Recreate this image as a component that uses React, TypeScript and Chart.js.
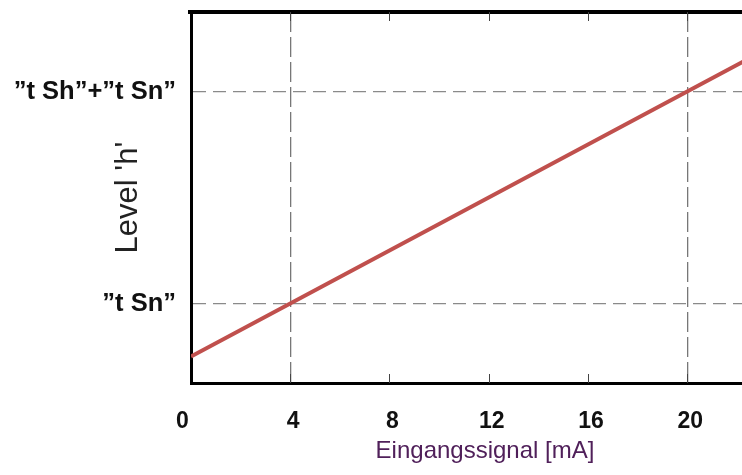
import React, { useEffect, useRef } from 'react';
import { Chart, registerables } from 'chart.js';

Chart.register(...registerables);

// ---- data ----
const signalValues = [0, 4, 20, 23.7];
const levelValues = [0.5, 1.5, 5.5, 6.425];
const xTickValues = [0, 4, 8, 12, 16, 20];
const xTickLabels = ['0\u2003', '4', '8', '12', '16', '20'];
const xGridValues = [4, 20];
const yTickValues = [1.5, 5.5];
const yTickLabels = ['”t Sn”', '”t Sh”+”t Sn”'];
const xTitle = 'Eingangssignal [mA]';
const yTitle = "Level 'h'";

const FONT = '"Liberation Sans", Arial, Helvetica, sans-serif';

const framePlugin = {
  id: 'frame',
  afterDraw(chart: any) {
    const { ctx, chartArea } = chart;
    const xs = chart.scales.x;
    ctx.save();
    ctx.setLineDash([]);
    ctx.strokeStyle = '#000';
    ctx.lineWidth = 4;
    ctx.beginPath();
    ctx.moveTo(chartArea.left - 3, chartArea.top);
    ctx.lineTo(chartArea.right, chartArea.top);
    ctx.stroke();
    ctx.lineWidth = 1;
    ctx.strokeStyle = '#444';
    ctx.beginPath();
    xs.ticks.forEach((t: any) => {
      if (t.value === 0) return;
      const px = Math.round(xs.getPixelForValue(t.value)) + 0.5;
      ctx.moveTo(px, chartArea.top);
      ctx.lineTo(px, chartArea.top + 9);
      ctx.moveTo(px, chartArea.bottom);
      ctx.lineTo(px, chartArea.bottom - 9);
    });
    ctx.stroke();
    ctx.restore();
  },
};

export default function App() {
  const ref = useRef<HTMLCanvasElement | null>(null);

  useEffect(() => {
    if (!ref.current) return;
    const chart = new Chart(ref.current, {
      type: 'line',
      data: {
        datasets: [
          {
            data: signalValues.map((x, i) => ({ x, y: levelValues[i] })),
            borderColor: '#C0504D',
            borderWidth: 4,
            pointRadius: 0,
            tension: 0,
          },
        ],
      },
      options: {
        responsive: false,
        animation: false,
        layout: { padding: { top: 12, right: 1, left: 0, bottom: 0 } },
        plugins: { legend: { display: false }, tooltip: { enabled: false } },
        scales: {
          x: {
            type: 'linear',
            min: 0,
            max: 23.7,
            afterBuildTicks: (s: any) => {
              s.ticks = xTickValues.map((v) => ({ value: v }));
            },
            afterFit: (s: any) => {
              s.height = 92;
              s.paddingLeft = 0;
              s.paddingRight = 0;
            },
            grid: {
              drawTicks: false,
              lineWidth: 1.3,
              color: (c: any) =>
                c.tick && xGridValues.includes(c.tick.value) ? '#777777' : 'rgba(0,0,0,0)',
            },
            border: { display: true, color: '#000', width: 3, dash: [20, 5] },
            ticks: {
              padding: 25,
              color: '#111',
              autoSkip: false,
              maxRotation: 0,
              labelOffset: 3,
              font: { family: FONT, size: 23, weight: 'bold' },
              callback: (v: any) => {
                const i = xTickValues.indexOf(Number(v));
                return i >= 0 ? xTickLabels[i] : '';
              },
            },
            title: {
              display: true,
              text: xTitle,
              color: '#50205a',
              font: { family: FONT, size: 24 },
              padding: { top: 0, bottom: 9 },
            },
          },
          y: {
            type: 'linear',
            min: 0,
            max: 7,
            afterBuildTicks: (s: any) => {
              s.ticks = yTickValues.map((v) => ({ value: v }));
            },
            afterFit: (s: any) => {
              s.width = 191;
              s.paddingTop = 0;
              s.paddingBottom = 0;
            },
            grid: { drawTicks: false, lineWidth: 1.3, color: '#8a8a8a' },
            border: { display: true, color: '#000', width: 3, dash: [13, 7] },
            ticks: {
              padding: 15,
              color: '#111',
              font: { family: FONT, size: 25.5, weight: 'bold' },
              callback: (v: any) => {
                const i = yTickValues.indexOf(Number(v));
                return i >= 0 ? yTickLabels[i] : '';
              },
            },
            title: {
              display: true,
              text: yTitle,
              color: '#222',
              font: { family: FONT, size: 31 },
              padding: { top: 110, bottom: 0 },
            },
          },
        },
      },
      plugins: [framePlugin],
    } as any);
    return () => chart.destroy();
  }, []);

  return (
    <div
      style={{
        position: 'fixed',
        left: 0,
        top: 0,
        width: 742,
        height: 475,
        overflow: 'hidden',
        background: '#fff',
      }}
    >
      <canvas ref={ref} width={780} height={475} style={{ display: 'block' }} />
    </div>
  );
}
